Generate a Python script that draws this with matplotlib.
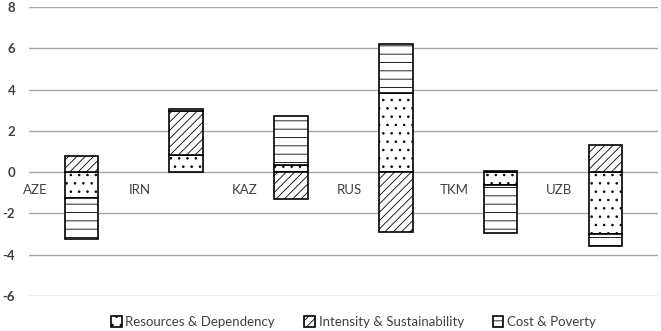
import matplotlib.pyplot as plt
import numpy as np

# values
countries = ["AZE", "IRN", "KAZ", "RUS", "TKM", "UZB"]
resources = [-1.24, 0.82, 0.35, 3.81, -0.63, -3.0]
intensity = [0.77, 2.13, -1.3, -2.88, 0.05, 1.33]
cost = [-2.02, 0.09, 2.38, 2.39, -2.32, -0.6]

series = [
    ("Resources & Dependency", resources, ".."),
    ("Intensity & Sustainability", intensity, "////"),
    ("Cost & Poverty", cost, "--"),
]

plt.rcParams["font.family"] = ["Lato", "DejaVu Sans"]
plt.rcParams["hatch.linewidth"] = 0.6
plt.rcParams["axes.unicode_minus"] = False

fig = plt.figure(figsize=(6.61, 3.31), dpi=100)
ax = fig.add_axes([0.044, 0.106, 0.951, 0.873])

x = np.arange(len(countries))
pos_base = np.zeros(len(countries))
neg_base = np.zeros(len(countries))
for name, vals, hatch in series:
    vals = np.array(vals)
    bottoms = np.where(vals >= 0, pos_base, neg_base)
    ax.bar(x, vals, 0.32, bottom=bottoms, color="white", edgecolor="black",
           linewidth=1.2, hatch=hatch, label=name, zorder=3)
    pos_base = pos_base + np.where(vals >= 0, vals, 0)
    neg_base = neg_base + np.where(vals < 0, vals, 0)

for i, c in enumerate(countries):
    ax.text(i - 0.44, -0.85, c, ha="center", va="center", fontsize=9.5,
            color="#404040")

ax.set_xlim(-0.5, len(countries) - 0.5)
ax.set_ylim(-6, 8)
ax.set_yticks(range(-6, 9, 2))
ax.set_xticks([])
ax.grid(axis="y", color="#a6a6a6", linewidth=1.0, zorder=0)
for s in ax.spines.values():
    s.set_visible(False)
ax.tick_params(axis="y", length=0, pad=10, labelsize=9.5, labelcolor="#404040")
for t in ax.get_yticklabels():
    t.set_fontweight("bold")

fig.legend(loc="center", bbox_to_anchor=(0.535, 0.027), ncol=3, frameon=False,
           fontsize=9.5, handlelength=0.8, handleheight=0.8, handletextpad=0.3,
           columnspacing=2.2, labelcolor="#404040")

fig.savefig("out.png", dpi=100)
